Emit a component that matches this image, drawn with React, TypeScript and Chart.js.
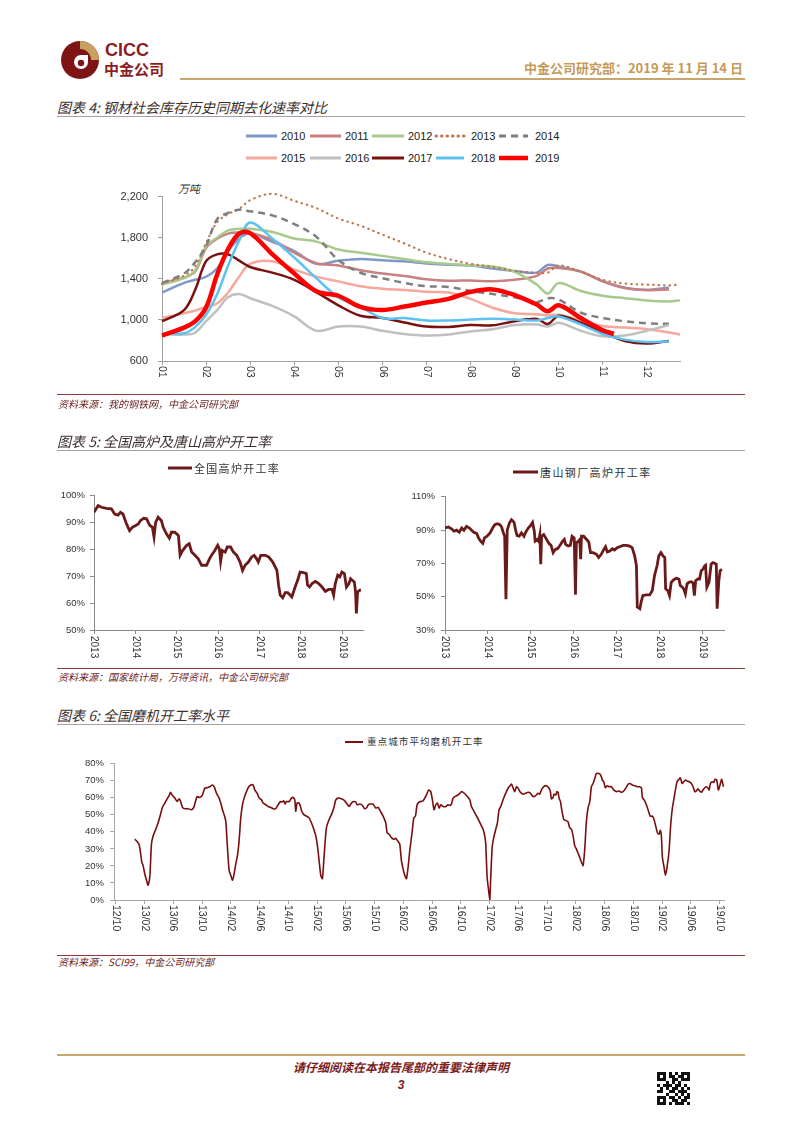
import React, { useEffect, useRef } from "react";
import { Chart, registerables } from "chart.js";

Chart.register(...registerables);
Chart.defaults.font.family = "'Liberation Sans', Arial, sans-serif";

const CJK = "'Noto Sans CJK SC', sans-serif";
const LAT = "'Liberation Sans', Arial, sans-serif";

// ---------------- Chart 4: steel social inventory (万吨) ----------------
const MONTH_TICKS = [0, 1, 2, 3, 4, 5, 6, 7, 8, 9, 10, 11];
const MONTH_LABELS = ["01", "02", "03", "04", "05", "06", "07", "08", "09", "10", "11", "12"];
const STOCK_MONTHS = [0, 0.5, 0.75, 1, 1.25, 1.5, 1.75, 2, 2.5, 3, 3.5, 4, 4.5, 5, 5.5, 6, 6.5, 7, 7.5, 8, 8.5, 8.75, 9, 9.5, 10, 10.25, 10.5, 11, 11.5, 11.75];
const S2010 = [1266, 1360, 1390, 1420, 1500, 1670, 1793, 1840, 1760, 1670, 1545, 1575, 1592, 1580, 1570, 1550, 1536, 1530, 1500, 1477, 1460, 1535, 1520, 1470, 1375, null, 1313, 1291, 1315, null];
const S2011 = [1360, 1410, 1470, 1700, 1790, 1840, 1850, 1845, 1778, 1654, 1552, 1530, 1484, 1452, 1428, 1395, 1381, 1384, 1375, 1390, 1428, 1500, 1505, 1470, 1375, null, 1310, 1290, 1295, null];
const S2012 = [1344, 1406, 1480, 1716, 1800, 1871, 1886, 1886, 1855, 1793, 1762, 1685, 1654, 1623, 1592, 1561, 1545, 1530, 1520, 1468, 1344, 1257, 1360, 1282, 1236, null, 1211, 1189, 1180, 1190];
const S2013 = [1350, 1430, 1520, 1750, 1950, 2030, 2080, 2165, 2227, 2159, 2088, 1986, 1917, 1830, 1744, 1654, 1592, 1546, 1515, 1477, 1459, 1460, 1530, 1468, 1390, null, 1353, 1344, 1335, 1345];
const S2014 = [1360, 1452, 1560, 1720, 1980, 2041, 2072, 2057, 2017, 1933, 1809, 1583, 1459, 1406, 1360, 1328, 1320, 1282, 1251, 1220, 1173, 1210, 1198, 1071, 1018, null, 987, 966, 963, null];
const S2015 = [1018, 1065, 1090, 1127, 1160, 1266, 1421, 1545, 1570, 1490, 1421, 1375, 1328, 1304, 1291, 1273, 1266, 1204, 1118, 1065, 1056, 1043, 1050, 994, 941, null, 925, 910, 878, 857];
const S2016 = [863, 857, 875, 987, 1096, 1220, 1251, 1211, 1136, 1034, 894, 935, 935, 894, 863, 848, 857, 888, 910, 950, 956, 935, 972, 894, 840, null, 848, 894, 950, null];
const S2017 = [987, 1096, 1290, 1572, 1638, 1638, 1577, 1515, 1460, 1390, 1270, 1142, 1040, 1018, 975, 935, 932, 950, 947, 987, 1010, 960, 1040, 972, 880, null, 795, 770, 795, null];
const S2018 = [863, 870, 930, 1050, 1250, 1530, 1770, 1948, 1793, 1607, 1406, 1220, 1127, 1018, 1018, 994, 994, 1003, 1010, 1003, 994, 1018, 1034, 956, 863, null, 808, 786, 790, null];
const S2019 = [848, 925, 985, 1120, 1440, 1690, 1840, 1845, 1640, 1452, 1279, 1235, 1127, 1096, 1130, 1170, 1205, 1273, 1297, 1242, 1149, 1085, 1142, 1018, 900, 863, null, null, null, null];
const STOCK_YEARS = ["2010", "2011", "2012", "2013", "2014", "2015", "2016", "2017", "2018", "2019"];
const STOCK_SERIES = [S2010, S2011, S2012, S2013, S2014, S2015, S2016, S2017, S2018, S2019];
const STOCK_Y_TICKS = [600, 1000, 1400, 1800, 2200];

// ---------------- Chart 5: blast furnace utilisation ----------------
const YEAR_TICKS = [2013, 2014, 2015, 2016, 2017, 2018, 2019];
const YEAR_LABELS = ["2013", "2014", "2015", "2016", "2017", "2018", "2019"];
const BF_X = [2013.00, 2013.06, 2013.10, 2013.18, 2013.30, 2013.42, 2013.50, 2013.58, 2013.64, 2013.70, 2013.77, 2013.82, 2013.86, 2013.93, 2014.01, 2014.07, 2014.12, 2014.20, 2014.27, 2014.35, 2014.41, 2014.45, 2014.49, 2014.55, 2014.63, 2014.67, 2014.75, 2014.82, 2014.87, 2014.95, 2015.04, 2015.08, 2015.14, 2015.24, 2015.30, 2015.36, 2015.44, 2015.52, 2015.60, 2015.72, 2015.79, 2015.84, 2015.92, 2015.99, 2016.03, 2016.06, 2016.10, 2016.17, 2016.22, 2016.30, 2016.37, 2016.45, 2016.53, 2016.59, 2016.65, 2016.73, 2016.81, 2016.87, 2016.93, 2016.97, 2017.03, 2017.14, 2017.22, 2017.32, 2017.42, 2017.46, 2017.50, 2017.56, 2017.62, 2017.68, 2017.74, 2017.78, 2017.86, 2017.92, 2017.98, 2018.06, 2018.13, 2018.16, 2018.21, 2018.27, 2018.35, 2018.43, 2018.51, 2018.59, 2018.67, 2018.75, 2018.79, 2018.83, 2018.89, 2018.94, 2018.99, 2019.05, 2019.10, 2019.16, 2019.20, 2019.24, 2019.29, 2019.32, 2019.34, 2019.37, 2019.42, 2019.45];
const BF_Y = [93.8, 95.3, 96.3, 95.7, 95.3, 95.1, 93.2, 92.8, 93.8, 93.2, 90.1, 88.3, 87.0, 88.3, 88.9, 89.5, 90.7, 91.6, 91.4, 88.9, 88.3, 84.6, 90.1, 92.0, 90.7, 88.3, 85.8, 84.2, 86.4, 86.4, 85.2, 77.8, 79.6, 81.5, 82.1, 79.0, 77.8, 76.5, 74.1, 74.1, 76.5, 77.8, 79.6, 81.5, 80.2, 75.5, 79.6, 79.0, 80.9, 80.9, 79.0, 77.8, 75.3, 72.2, 74.1, 75.3, 77.2, 77.8, 76.5, 75.3, 77.8, 77.8, 77.2, 75.3, 72.2, 66.7, 63.0, 62.0, 63.9, 63.9, 63.0, 62.3, 66.0, 68.5, 71.6, 71.4, 71.0, 66.7, 66.0, 67.3, 68.1, 67.3, 66.0, 64.4, 65.1, 65.1, 63.0, 67.3, 70.4, 69.8, 71.6, 71.0, 66.0, 67.3, 69.1, 68.5, 67.9, 64.2, 56.2, 64.2, 64.8, 64.8];
const TS_X = [2013.00, 2013.08, 2013.16, 2013.21, 2013.27, 2013.33, 2013.39, 2013.44, 2013.50, 2013.57, 2013.62, 2013.67, 2013.74, 2013.78, 2013.83, 2013.88, 2013.92, 2013.98, 2014.05, 2014.11, 2014.16, 2014.22, 2014.28, 2014.32, 2014.36, 2014.39, 2014.42, 2014.45, 2014.50, 2014.55, 2014.61, 2014.65, 2014.68, 2014.73, 2014.78, 2014.84, 2014.88, 2014.94, 2014.99, 2015.04, 2015.08, 2015.10, 2015.15, 2015.18, 2015.21, 2015.23, 2015.25, 2015.30, 2015.36, 2015.42, 2015.47, 2015.52, 2015.57, 2015.62, 2015.67, 2015.74, 2015.78, 2015.81, 2015.87, 2015.92, 2015.96, 2016.01, 2016.04, 2016.06, 2016.11, 2016.14, 2016.16, 2016.18, 2016.23, 2016.30, 2016.35, 2016.39, 2016.45, 2016.53, 2016.58, 2016.64, 2016.70, 2016.74, 2016.78, 2016.84, 2016.90, 2016.95, 2017.01, 2017.07, 2017.15, 2017.23, 2017.30, 2017.36, 2017.42, 2017.46, 2017.48, 2017.54, 2017.57, 2017.61, 2017.69, 2017.77, 2017.83, 2017.88, 2017.94, 2017.98, 2018.03, 2018.08, 2018.12, 2018.14, 2018.19, 2018.23, 2018.27, 2018.33, 2018.39, 2018.45, 2018.48, 2018.53, 2018.56, 2018.60, 2018.64, 2018.68, 2018.74, 2018.78, 2018.81, 2018.84, 2018.89, 2018.93, 2018.97, 2019.01, 2019.05, 2019.07, 2019.10, 2019.15, 2019.20, 2019.24, 2019.28, 2019.32, 2019.34, 2019.38, 2019.41, 2019.45];
const TS_Y = [91.2, 91.8, 90.6, 89.3, 89.9, 88.7, 91.2, 89.9, 92.2, 91.2, 89.9, 88.7, 87.9, 85.3, 83.3, 82.0, 85.3, 86.3, 88.3, 91.2, 93.2, 93.8, 93.2, 91.8, 88.3, 86.3, 48.4, 89.9, 94.2, 96.2, 94.6, 89.3, 86.7, 86.3, 88.3, 86.3, 88.7, 91.2, 92.6, 94.6, 89.3, 83.3, 84.3, 83.3, 87.3, 69.5, 86.3, 87.3, 84.7, 82.0, 80.8, 76.4, 78.4, 78.8, 80.4, 83.3, 84.3, 81.4, 80.4, 80.8, 86.3, 85.3, 51.1, 82.3, 83.3, 84.3, 72.5, 86.3, 86.3, 84.3, 82.7, 76.4, 76.4, 75.4, 73.5, 75.4, 78.4, 80.0, 76.8, 77.4, 78.8, 78.0, 79.4, 80.0, 80.8, 80.8, 80.4, 79.4, 74.4, 68.5, 43.8, 42.8, 46.8, 50.7, 51.1, 51.1, 53.7, 62.6, 68.5, 74.4, 76.4, 74.4, 73.5, 54.7, 53.7, 50.7, 58.6, 60.2, 61.0, 60.6, 56.7, 55.7, 54.7, 51.7, 57.7, 58.6, 59.0, 58.2, 50.7, 59.6, 60.6, 60.6, 65.6, 66.5, 68.5, 68.9, 55.7, 58.6, 69.5, 70.5, 70.1, 69.5, 42.8, 59.6, 65.6, 66.5];

// ---------------- Chart 6: grinding mill utilisation ----------------
const MILL_TICKS = [0, 4, 8, 12, 16, 20, 24, 28, 32, 36, 40, 44, 48, 52, 56, 60, 64, 68, 72, 76, 80, 84];
const MILL_LABELS = ["12/10", "13/02", "13/06", "13/10", "14/02", "14/06", "14/10", "15/02", "15/06", "15/10", "16/02", "16/06", "16/10", "17/02", "17/06", "17/10", "18/02", "18/06", "18/10", "19/02", "19/06", "19/10"];
const MILL_MONTH = [
  2.64, 2.97, 3.25, 3.43, 3.62, 3.80, 4.03, 4.27, 4.50, 4.73, 4.96, 5.19, 5.56, 5.89, 6.21, 6.49, 6.82, 7.14, 7.42, 7.60,
  7.88, 8.21, 8.53, 8.81, 8.99, 9.27, 9.60, 10.06, 10.52, 10.85, 11.08, 11.31, 11.68, 12.05, 12.38, 12.70, 13.07, 13.44, 13.68, 14.00,
  14.33, 14.60, 14.84, 15.07, 15.30, 15.53, 15.76, 15.99, 16.23, 16.46, 16.69, 16.92, 17.15, 17.38, 17.62, 17.85, 18.17, 18.50, 18.78, 19.10,
  19.33, 19.66, 19.94, 20.26, 20.49, 20.86, 21.19, 21.51, 21.88, 22.25, 22.58, 22.90, 23.13, 23.37, 23.55, 23.74, 24.11, 24.43, 24.66, 24.90,
  25.03, 25.22, 25.50, 25.68, 25.87, 26.15, 26.52, 26.89, 27.21, 27.54, 27.82, 28.05, 28.28, 28.51, 28.74, 28.93, 29.11, 29.30, 29.67, 30.00,
  30.32, 30.60, 30.92, 31.39, 31.85, 32.17, 32.45, 32.78, 33.10, 33.38, 33.57, 33.94, 34.31, 34.58, 34.86, 35.14, 35.42, 35.79, 36.16, 36.49,
  36.81, 37.18, 37.55, 37.74, 38.02, 38.34, 38.67, 38.94, 39.27, 39.50, 39.73, 39.96, 40.19,
  40.43, 40.66, 40.89, 41.21, 41.45, 41.68, 41.91, 42.19, 42.42, 42.74, 42.98, 43.21, 43.53, 43.81, 44.04, 44.27, 44.51, 44.74, 44.97, 45.20,
  45.53, 45.90, 46.22, 46.45, 46.68, 46.92, 47.15, 47.47, 47.75, 48.08, 48.31, 48.63, 48.91, 49.24, 49.47, 49.70, 50.07, 50.39, 50.77, 51.09,
  51.32, 51.46, 51.65, 51.88, 52.02, 52.16, 52.35, 52.57, 52.85, 53.08, 53.31, 53.55, 53.87, 54.24, 54.57, 54.80, 55.03, 55.26, 55.49, 55.73,
  55.96, 56.28, 56.65, 57.02, 57.35, 57.67, 58.04, 58.41, 58.74, 58.97, 59.20, 59.53, 59.90, 60.27, 60.45, 60.59, 60.83, 60.96, 61.20, 61.38,
  61.52, 61.66, 61.85, 62.03, 62.31, 62.59, 62.91, 63.14, 63.38, 63.61, 63.84, 64.07, 64.30, 64.53, 64.77, 65.00, 65.23, 65.46, 65.69, 65.93,
  66.16, 66.39, 66.62, 66.85, 67.18, 67.45, 67.69, 67.87, 68.10, 68.34, 68.61, 68.94, 69.26, 69.63, 70.00, 70.33, 70.65, 70.93, 71.26, 71.49,
  71.86, 72.18, 72.51, 72.88, 73.11, 73.25, 73.57, 73.89, 74.17, 74.36, 74.64, 74.87, 75.10, 75.34, 75.57, 75.75, 75.89, 76.03, 76.26, 76.45,
  76.68, 76.96, 77.19, 77.42, 77.61, 77.84, 78.07, 78.35, 78.53, 78.77, 79.00, 79.23, 79.46, 79.74, 80.06, 80.30, 80.53, 80.76, 80.99, 81.22,
  81.46, 81.69, 81.92, 82.15, 82.39, 82.53, 82.71, 82.99, 83.17, 83.36, 83.59, 83.82, 84.05, 84.28, 84.52,
];
const MILL_RATE = [
  35.7, 34.3, 32.4, 28.0, 22.2, 20.2, 15.4, 11.6, 8.7, 13.5, 32.8, 37.6, 41.5, 45.3, 50.1, 54.4, 56.9, 59.4, 61.3, 63.2,
  61.3, 59.8, 57.8, 59.4, 58.2, 54.4, 53.6, 53.6, 53.0, 54.4, 57.8, 60.7, 60.2, 61.7, 65.6, 65.9, 66.5, 67.5, 66.5, 62.7,
  60.2, 56.9, 53.0, 50.1, 46.3, 30.8, 17.4, 14.5, 11.6, 15.4, 21.2, 26.0, 34.7, 48.2, 55.9, 59.8, 63.6, 66.5, 67.5, 67.5,
  64.6, 62.7, 59.8, 58.8, 56.9, 55.9, 54.9, 54.4, 53.6, 53.6, 55.9, 57.8, 57.5, 58.2, 56.3, 57.8, 57.8, 59.8, 60.2, 58.8,
  52.1, 56.9, 56.9, 54.9, 52.1, 50.1, 49.2, 48.2, 45.3, 41.5, 37.6, 31.8, 23.1, 14.5, 12.5, 23.1, 33.7, 42.4, 47.2, 50.1,
  54.0, 58.8, 59.8, 59.4, 58.2, 56.3, 54.9, 56.9, 57.8, 57.5, 55.9, 56.3, 55.5, 53.6, 54.0, 55.9, 56.3, 56.3, 54.0, 54.4,
  52.1, 49.2, 45.3, 39.5, 38.6, 36.6, 35.7, 36.2, 34.3, 32.8, 23.1, 18.3, 14.5,
  12.5, 19.3, 28.9, 39.5, 48.2, 49.2, 55.9, 57.5, 57.8, 58.2, 59.8, 61.7, 64.6, 63.6, 58.8, 53.0, 55.9, 56.9, 54.0, 55.9,
  54.9, 54.9, 55.9, 55.5, 56.3, 59.8, 60.7, 61.3, 62.1, 63.6, 63.2, 62.1, 60.7, 58.8, 54.9, 53.0, 50.1, 47.6, 44.3, 41.5,
  37.6, 32.8, 13.5, 4.8, 0, 13.5, 30.8, 36.6, 41.5, 45.3, 53.0, 54.9, 58.8, 62.7, 65.6, 66.9, 68.1, 65.9, 63.6, 66.5,
  65.6, 63.2, 62.1, 62.7, 63.2, 62.7, 60.7, 61.3, 62.7, 62.1, 64.6, 66.5, 67.1, 65.6, 63.6, 59.4, 60.2, 62.1, 61.7, 63.6,
  63.2, 59.8, 57.8, 53.0, 47.2, 46.7, 45.9, 42.4, 41.5, 37.6, 31.8, 29.9, 27.4, 25.1, 22.2, 20.2, 29.9, 46.3, 54.0, 57.8,
  66.5, 68.4, 71.3, 74.2, 74.2, 73.3, 70.4, 69.4, 65.9, 67.1, 66.5, 66.5, 64.6, 63.6, 64.0, 63.2, 64.0, 65.6, 67.9, 68.4,
  67.5, 67.1, 66.5, 66.5, 65.9, 60.2, 58.2, 54.9, 51.1, 49.2, 49.2, 47.2, 43.4, 39.5, 38.6, 40.9, 37.6, 25.1, 19.3, 14.5,
  19.3, 28.9, 44.3, 54.0, 58.8, 64.6, 69.4, 70.9, 71.7, 68.4, 69.4, 70.4, 69.9, 69.4, 68.4, 66.5, 63.6, 64.0, 65.2, 64.0,
  63.2, 64.6, 65.9, 66.5, 65.6, 64.6, 68.4, 69.4, 69.0, 70.9, 70.4, 64.6, 67.5, 70.9, 66.5,
];

// ---------------- styles (not data) ----------------
const STOCK_STYLE = [
  { color: "#8097c8", width: 2.5, dash: [] as number[] },
  { color: "#c98080", width: 2.5, dash: [] },
  { color: "#a8c98c", width: 2.5, dash: [] },
  { color: "#c0764a", width: 2.2, dash: [0.5, 5], cap: "round" },
  { color: "#7f7f7f", width: 2.5, dash: [7, 5] },
  { color: "#f6a89c", width: 2.5, dash: [] },
  { color: "#c0c0c0", width: 2.5, dash: [] },
  { color: "#7a1010", width: 2.5, dash: [] },
  { color: "#5cc2f2", width: 2.5, dash: [] },
  { color: "#ff0000", width: 4.5, dash: [] },
];
const LEG_SW_X = [246, 310, 372, 436, 499];
const LEG_SW_W = [31, 31, 32, 28, 29];
const LEG_TX_X = [281, 345, 408, 471, 535];
const LEG_ROW_Y = [136, 158];

const pts = (xs: number[], ys: (number | null)[]) =>
  xs.slice(0, Math.min(xs.length, ys.length)).map((x, i) => ({ x, y: ys[i] }));

const vLabels = (values: number[], labels: string[], font: string, color: string, offset: number) => ({
  id: "vlabels",
  afterDraw(chart: any) {
    const s = chart.scales.x;
    const ctx = chart.ctx;
    ctx.save();
    ctx.font = font;
    ctx.fillStyle = color;
    ctx.textAlign = "left";
    ctx.textBaseline = "middle";
    values.forEach((v, i) => {
      const px = s.getPixelForValue(v);
      ctx.save();
      ctx.translate(px, s.top + offset);
      ctx.rotate(Math.PI / 2);
      ctx.fillText(labels[i], 0, 0);
      ctx.restore();
    });
    ctx.restore();
  },
});

function xAxis(min: number, max: number, ticks: number[], height: number, color: string) {
  return {
    type: "linear",
    min,
    max,
    afterBuildTicks: (s: any) => {
      s.ticks = ticks.map((v) => ({ value: v }));
    },
    ticks: { display: false },
    grid: { drawOnChartArea: false, drawTicks: true, tickLength: 4, color, lineWidth: 1 },
    border: { display: true, color, width: 1 },
    afterFit: (s: any) => {
      s.height = height;
    },
  };
}

function yAxis(min: number, max: number, step: number, width: number, color: string, size: number, pad: number, fmt: (v: number) => string) {
  return {
    min,
    max,
    ticks: { stepSize: step, padding: pad, color: "#333", font: { size, family: LAT }, callback: (v: any) => fmt(Number(v)) },
    grid: { drawOnChartArea: false, drawTicks: true, tickLength: 4, color, lineWidth: 1 },
    border: { display: true, color, width: 1 },
    afterFit: (s: any) => {
      s.width = width;
    },
  };
}

function ChartCanvas({ x, y, w, h, make }: { x: number; y: number; w: number; h: number; make: () => any }) {
  const ref = useRef<HTMLCanvasElement>(null);
  useEffect(() => {
    const chart = new Chart(ref.current as HTMLCanvasElement, make());
    return () => chart.destroy();
  }, []);
  return <canvas ref={ref} width={w} height={h} style={{ position: "absolute", left: x, top: y, width: w, height: h }} />;
}

function Txt(props: any) {
  const { x, y, size, children, color = "#333", family = CJK, weight = "normal", italic = false, align = "left", w, ls = 0 } = props;
  const style: any = {
    position: "absolute",
    top: y - size / 2,
    fontSize: size,
    lineHeight: `${size}px`,
    color,
    fontFamily: family,
    fontWeight: weight,
    fontStyle: italic ? "italic" : "normal",
    whiteSpace: "nowrap",
    letterSpacing: ls,
  };
  if (align === "left") style.left = x;
  else if (align === "right") {
    style.left = x - w;
    style.width = w;
    style.textAlign = "right";
  } else {
    style.left = x - w / 2;
    style.width = w;
    style.textAlign = "center";
  }
  return <div style={style}>{children}</div>;
}

function HLine({ x, y, w, h, color }: any) {
  return <div style={{ position: "absolute", left: x, top: y, width: w, height: h, background: color }} />;
}

function Swatch({ x, y, w, color, width, dash, cap }: any) {
  return (
    <svg style={{ position: "absolute", left: x, top: y - 5, overflow: "visible" }} width={w} height={10}>
      <line x1={0} y1={5} x2={w} y2={5} stroke={color} strokeWidth={width} strokeDasharray={dash && dash.length ? dash.join(",") : undefined} strokeLinecap={cap || "butt"} />
    </svg>
  );
}

const QR = [
  "11101010111",
  "10101101101",
  "11100110111",
  "00010101000",
  "10111011010",
  "01010110101",
  "11001101110",
  "00010010101",
  "11101101011",
  "10100110110",
  "11101011101",
];

export default function App() {
  const makeStock = () => ({
    type: "line",
    data: {
      datasets: STOCK_SERIES.map((vals, i) => ({
        label: STOCK_YEARS[i],
        data: pts(STOCK_MONTHS, vals),
        borderColor: STOCK_STYLE[i].color,
        borderWidth: STOCK_STYLE[i].width,
        borderDash: STOCK_STYLE[i].dash,
        borderCapStyle: (STOCK_STYLE[i] as any).cap || "butt",
        pointRadius: 0,
        tension: 0.35,
        spanGaps: true,
        fill: false,
        clip: false,
        order: 20 - i,
      })),
    },
    options: {
      responsive: false,
      animation: false,
      layout: { padding: { top: 10, right: 20, left: 0, bottom: 0 } },
      plugins: { legend: { display: false }, tooltip: { enabled: false } },
      scales: {
        x: xAxis(0, 11.75, MONTH_TICKS, 39, "#a0a0a0"),
        y: {
          ...yAxis(600, 2200, 400, 72, "#a0a0a0", 11, 10, (v) => v.toLocaleString("en-US")),
          afterBuildTicks: (s: any) => {
            s.ticks = STOCK_Y_TICKS.map((v) => ({ value: v }));
          },
        },
      },
    },
    plugins: [vLabels(MONTH_TICKS, MONTH_LABELS, `10.5px ${LAT}`, "#333", 5)],
  });

  const makeRate = (xs: number[], ys: number[], min: number, max: number, step: number, yw: number, pad: number, padRight: number) => ({
    type: "line",
    data: {
      datasets: [
        {
          data: pts(xs, ys),
          borderColor: "#6b1a1a",
          borderWidth: 2.8,
          pointRadius: 0,
          tension: 0,
          fill: false,
        },
      ],
    },
    options: {
      responsive: false,
      animation: false,
      layout: { padding: { top: 10, right: padRight, left: 0, bottom: 0 } },
      plugins: { legend: { display: false }, tooltip: { enabled: false } },
      scales: {
        x: xAxis(2013, 2019.5, YEAR_TICKS, 35, "#8a8a8a"),
        y: yAxis(min, max, step, yw, "#8a8a8a", 9.5, pad, (v) => `${v}%`),
      },
    },
    plugins: [vLabels(YEAR_TICKS, YEAR_LABELS, `10px ${LAT}`, "#333", 6)],
  });

  const makeMill = () => ({
    type: "line",
    data: {
      datasets: [
        {
          data: pts(MILL_MONTH, MILL_RATE),
          borderColor: "#7a0e0e",
          borderWidth: 1.6,
          pointRadius: 0,
          tension: 0.2,
          fill: false,
        },
      ],
    },
    options: {
      responsive: false,
      animation: false,
      layout: { padding: { top: 10, right: 16, left: 0, bottom: 0 } },
      plugins: { legend: { display: false }, tooltip: { enabled: false } },
      scales: {
        x: xAxis(-0.25, 84.6, MILL_TICKS, 42, "#a6a6a6"),
        y: yAxis(0, 80, 10, 54, "#a6a6a6", 9.5, 6, (v) => `${v}%`),
      },
    },
    plugins: [vLabels(MILL_TICKS, MILL_LABELS, `10.5px ${LAT}`, "#333", 5)],
  });

  const titleColor = "#3c2f2f";
  const srcColor = "#6e2424";
  const srcLine = "#8c3b3b";
  const titleLine = "#a8a0a0";
  const gold = "#c9a66b";

  return (
    <div style={{ position: "absolute", left: 0, top: 0, width: 802, height: 1133, background: "#fff", overflow: "hidden" }}>
      {/* header */}
      <svg style={{ position: "absolute", left: 60, top: 40 }} width={40} height={40} viewBox="0 0 40 40">
        <circle cx={20} cy={20} r={19} fill="#7e1416" />
        <path d="M20 20 L20 1 A19 19 0 0 1 39 20 Z" fill="#c8a060" />
        <circle cx={20} cy={20} r={11} fill="#7e1416" />
        <circle cx={21} cy={22} r={7} fill="#fff" />
        <circle cx={21} cy={23} r={3.2} fill="#7e1416" />
        <path d="M21 15 L28 15 L28 22 Z" fill="#fff" />
      </svg>
      <Txt x={105} y={50} size={18} family={LAT} weight="bold" color="#8c1c23">CICC</Txt>
      <Txt x={104} y={68} size={15} weight="bold" color="#8c1c23">中金公司</Txt>
      <Txt x={743} y={67} size={13} weight="bold" color="#c49a58" align="right" w={340}>中金公司研究部：2019 年 11 月 14 日</Txt>
      <HLine x={180} y={78} w={565} h={2} color={gold} />

      {/* chart 4 */}
      <Txt x={57} y={107} size={14} italic color={titleColor}>图表 4: 钢材社会库存历史同期去化速率对比</Txt>
      <HLine x={57} y={116} w={688} h={1} color={titleLine} />
      {STOCK_YEARS.map((name, i) => {
        const row = i < 5 ? 0 : 1;
        const col = i % 5;
        const st: any = STOCK_STYLE[i];
        return (
          <React.Fragment key={name}>
            <Swatch x={LEG_SW_X[col]} y={LEG_ROW_Y[row]} w={LEG_SW_W[col]} color={st.color} width={i === 9 ? 4.5 : 3} dash={i === 3 ? [0.5, 5] : st.dash} cap={i === 3 ? "round" : "butt"} />
            <Txt x={LEG_TX_X[col]} y={LEG_ROW_Y[row]} size={11} family={LAT} color="#222">{name}</Txt>
          </React.Fragment>
        );
      })}
      <Txt x={178} y={188} size={11} italic color="#333">万吨</Txt>
      <ChartCanvas x={90} y={180} w={610} h={220} make={makeStock} />
      <HLine x={57} y={394} w={688} h={1} color={srcLine} />
      <Txt x={58} y={404} size={10} italic color={srcColor}>资料来源：我的钢铁网，中金公司研究部</Txt>

      {/* chart 5 */}
      <Txt x={57} y={441} size={14} italic color={titleColor}>图表 5: 全国高炉及唐山高炉开工率</Txt>
      <HLine x={57} y={450} w={688} h={1} color={titleLine} />
      <Swatch x={168} y={468} w={24} color="#6b1a1a" width={3} />
      <Txt x={194} y={468} size={11} color="#333" ls={1.3}>全国高炉开工率</Txt>
      <ChartCanvas x={40} y={485} w={330} h={180} make={() => makeRate(BF_X, BF_Y, 50, 100, 10, 54, 5, 7)} />
      <Swatch x={513} y={472} w={25} color="#6b1a1a" width={3} />
      <Txt x={540} y={472} size={11} color="#333" ls={1.4}>唐山钢厂高炉开工率</Txt>
      <ChartCanvas x={390} y={485} w={345} h={180} make={() => makeRate(TS_X, TS_Y, 30, 110, 20, 55, 6, 11)} />
      <HLine x={57} y={668} w={688} h={1} color={srcLine} />
      <Txt x={58} y={677} size={10} italic color={srcColor}>资料来源：国家统计局，万得资讯，中金公司研究部</Txt>

      {/* chart 6 */}
      <Txt x={57} y={715} size={14} italic color={titleColor}>图表 6: 全国磨机开工率水平</Txt>
      <HLine x={57} y={724} w={688} h={1} color={titleLine} />
      <Swatch x={345} y={742} w={18} color="#7a0e0e" width={2} />
      <Txt x={367} y={742} size={9.5} color="#333" ls={1.1}>重点城市平均磨机开工率</Txt>
      <ChartCanvas x={60} y={752} w={680} h={190} make={makeMill} />
      <HLine x={57} y={955} w={688} h={1} color={srcLine} />
      <Txt x={58} y={962} size={10} italic color={srcColor}>资料来源：SCI99，中金公司研究部</Txt>

      {/* footer */}
      <HLine x={57} y={1054} w={688} h={2} color={gold} />
      <Txt x={401} y={1067} size={12} italic weight="bold" color="#7b1c1c" align="center" w={400}>请仔细阅读在本报告尾部的重要法律声明</Txt>
      <Txt x={401} y={1085} size={12} italic weight="bold" color="#7b1c1c" align="center" w={40} family={LAT}>3</Txt>
      <div style={{ position: "absolute", left: 657, top: 1072, width: 33, height: 33 }}>
        {QR.map((row, r) =>
          row.split("").map((c, k) =>
            c === "1" ? <div key={`${r}-${k}`} style={{ position: "absolute", left: k * 3, top: r * 3, width: 3, height: 3, background: "#111" }} /> : null
          )
        )}
      </div>
    </div>
  );
}
